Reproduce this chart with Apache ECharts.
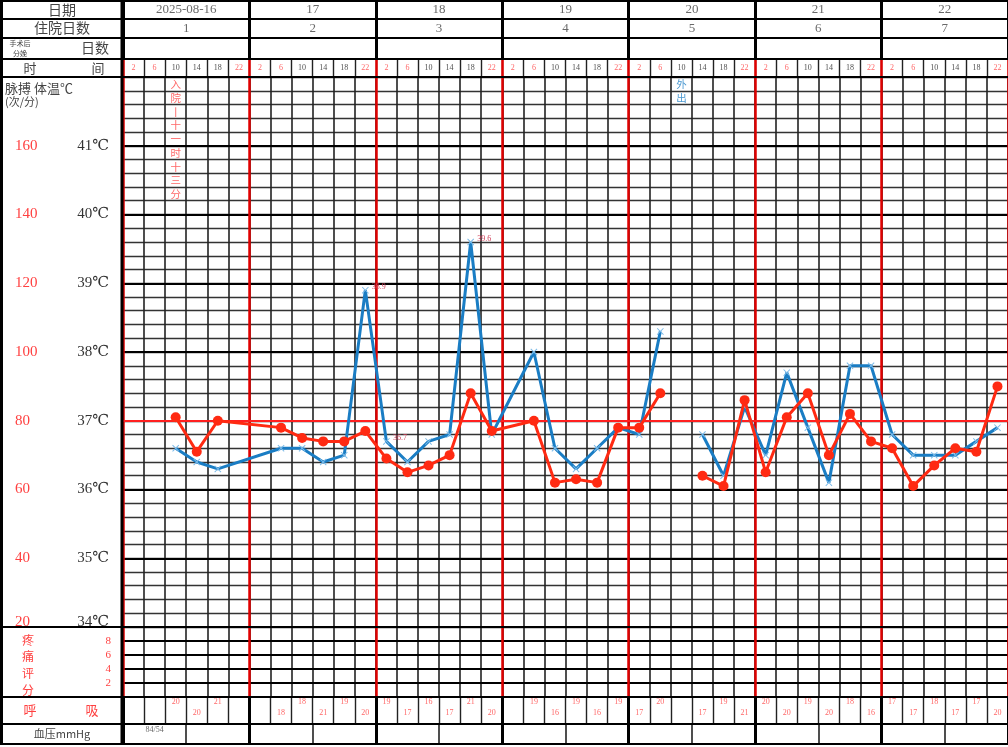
<!DOCTYPE html>
<html><head><meta charset="utf-8">
<script src="https://cdn.jsdelivr.net/npm/echarts@6/dist/echarts.min.js"></script>
<style>html,body{margin:0;padding:0;background:#fff}#c{width:1008px;height:747px}</style>
</head><body><div id="c"></div>
<script>
// ---------- data ----------
const dates = ['2025-08-16','17','18','19','20','21','22'];
const hospDays = ['1','2','3','4','5','6','7'];
const postOpDays = ['','','','','','',''];
const timeLabels = ['2','6','10','14','18','22'];
const nightHours = ['2','6','22'];
const tempTicks = [34,35,36,37,38,39,40,41];
const pulseTicks = [20,40,60,80,100,120,140,160];
const painTicks = [2,4,6,8];
// 42 time slots (7 days x 6)
const temperature = [
  null,null,36.6,36.4,36.3,null,
  null,36.6,36.6,36.4,36.5,38.9,
  36.7,36.4,36.7,36.8,39.6,36.8,
  null,38.0,36.6,36.3,36.6,36.9,
  36.8,38.3,null,36.8,36.2,37.2,
  36.5,37.7,36.9,36.1,37.8,37.8,
  36.8,36.5,36.5,36.5,36.7,36.9
];
const pulse = [
  null,null,81,71,80,null,
  null,78,75,74,74,77,
  69,65,67,70,88,77,
  null,80,62,63,62,78,
  78,88,null,64,61,86,
  65,81,88,70,82,74,
  72,61,67,72,71,90
];
const breath = [
  null,null,20,20,21,null,
  null,18,18,21,19,20,
  19,17,16,17,21,20,
  null,19,16,19,16,19,
  17,20,null,17,19,21,
  20,20,19,20,18,16,
  17,17,18,17,17,20
];
const bloodPressure = ['84/54','','','','','','','','','','','','',''];
const outSlots = [26];
const tempNotes = [{slot:11,text:'38.9'},{slot:12,text:'36.7'},{slot:16,text:'39.6'}];
const events = [{slot:2,text:'入院丨十一时十三分',kind:'admit'},{slot:26,text:'外出',kind:'out'}];

// ---------- layout ----------
const L = 123, W = 885;
const R = {date:[0,19],hosp:[19,38],op:[38,59],time:[59,77],main:[77,627],pain:[627,697],breath:[697,724],bp:[724,744]};
const RED = '#e00000', BLUE = '#1a7dc4', PRED = '#ff2a12', TRED = '#ff4040', GRAY = '#444';
const SERIF = "'Liberation Serif','DejaVu Serif',serif";
const CJK = "'Noto Sans CJK SC',sans-serif";

function grid(r){ return {left:L, top:r[0], width:W, height:r[1]-r[0], containLabel:false}; }
const grids = [grid(R.main),grid(R.pain),grid(R.breath),grid(R.bp),grid(R.time),grid(R.date),grid(R.hosp),grid(R.op)];

function xa(gi, max, interval, color, width, z){
  return {type:'value', gridIndex:gi, min:0, max:max, interval:interval, z:z||0,
    axisLine:{show:false}, axisTick:{show:false}, axisLabel:{show:false},
    splitLine:{show:true, lineStyle:{color:color, width:width}}};
}
const xAxes = [
  xa(0,42,1,'#222',1.6), xa(0,42,6,RED,2.5,2),       //0,1 main
  xa(1,42,1,'#222',1.6), xa(1,42,6,RED,2.5,2),       //2,3 pain
  xa(2,42,1,'#222',1.4), xa(2,42,6,'#000',3,2),      //4,5 breath
  xa(3,14,1,'#222',1.6), xa(3,14,2,'#000',3,2),      //6,7 bp
  xa(4,42,1,'#222',1.4), xa(4,42,6,RED,2.5,2),       //8,9 time
  xa(5,7,1,'#000',3), xa(6,7,1,'#000',3), xa(7,7,1,'#000',3) //10,11,12
];
function hiddenY(gi,min,max){ return {type:'value',gridIndex:gi,min:min,max:max,show:false,splitLine:{show:false}}; }
const yAxes = [
  {type:'value',gridIndex:0,min:34,max:42,interval:0.2,position:'right',z:0,
    axisLine:{show:false},axisTick:{show:false},axisLabel:{show:false},
    splitLine:{show:true,lineStyle:{color:'#333',width:1.4}}},
  {type:'value',gridIndex:0,min:34,max:42,interval:1,position:'left',z:1,
    axisLine:{show:false},axisTick:{show:false},
    axisLabel:{margin:14,color:'#333',fontSize:15,fontFamily:SERIF,
      rich:{b:{color:'#333',fontSize:15,fontFamily:SERIF,padding:[0,0,9,0]}},
      formatter:v=>!tempTicks.includes(v)?'':(v===tempTicks[0]?'{b|'+v+'℃}':v+'℃')},
    splitLine:{show:true,lineStyle:{color:'#000',width:2.2}}},
  {type:'value',gridIndex:0,min:20,max:180,interval:20,position:'left',
    axisLine:{show:false},axisTick:{show:false},splitLine:{show:false},
    axisLabel:{margin:108,align:'left',color:TRED,fontSize:15,fontFamily:SERIF,
      rich:{b:{color:TRED,fontSize:15,fontFamily:SERIF,padding:[0,0,9,0]}},
      formatter:v=>!pulseTicks.includes(v)?'':(v===pulseTicks[0]?'{b|'+v+'}':String(v))}},
  {type:'value',gridIndex:1,min:0,max:10,interval:2,position:'left',z:1,
    axisLine:{show:false},axisTick:{show:false},
    axisLabel:{margin:12,color:TRED,fontSize:11,fontFamily:SERIF,
      formatter:v=>painTicks.includes(v)?String(v):''},
    splitLine:{show:true,lineStyle:{color:'#000',width:2}}},
  hiddenY(2,0,2), hiddenY(3,0,1), hiddenY(4,0,1), hiddenY(5,0,1), hiddenY(6,0,1), hiddenY(7,0,1)
];

function buildLine(vals){
  const out=[];
  vals.forEach((v,i)=>{
    if(v!==null){
      const note = tempNotes.find(n=>n.slot===i);
      if(note && vals===temperature){
        out.push({value:[i+0.5,v],label:{show:true,position:'right',offset:[-2,-3],formatter:note.text,
          color:'#d0405a',fontSize:8,fontFamily:SERIF}});
      } else out.push([i+0.5,v]);
    } else if(outSlots.includes(i)) out.push([i+0.5,'-']);
  });
  return out;
}

function textSeries(xi, yi, data, label){
  return {type:'scatter', xAxisIndex:xi, yAxisIndex:yi, symbol:'circle', symbolSize:1, silent:true, z:8,
    itemStyle:{color:'rgba(0,0,0,0)'}, data:data,
    label:Object.assign({show:true, position:'inside', formatter:p=>p.value[2]}, label)};
}

// breath alternation (high/low by record order)
const breathData = [];
let k = 0;
breath.forEach((v,i)=>{ if(v!==null){ breathData.push([i+0.5, k%2===0?1.6:0.85, String(v)]); k++; } });

const X_PATH = 'path://M0,1L1,0L5,4L9,0L10,1L6,5L10,9L9,10L5,6L1,10L0,9L4,5Z';

const series = [
  {type:'line', name:'体温', xAxisIndex:0, yAxisIndex:0, data:buildLine(temperature), connectNulls:false,
    symbol:X_PATH, symbolSize:7, itemStyle:{color:'#7dbbe8'}, lineStyle:{color:BLUE,width:3}, z:4,
    markLine:{silent:true, symbol:'none', label:{show:false}, lineStyle:{color:'#ff2020',width:2,type:'solid'},
      data:[{yAxis:37}], z:3}},
  {type:'line', name:'脉搏', xAxisIndex:0, yAxisIndex:2, data:buildLine(pulse), connectNulls:false,
    symbol:'circle', symbolSize:10, itemStyle:{color:PRED}, lineStyle:{color:PRED,width:3}, z:5},
  textSeries(0,0, events.map(e=>[e.slot+0.5,42,e.text,e.kind]),
    {position:'bottom', distance:0, fontSize:10.5, lineHeight:13.7, fontFamily:CJK, color:TRED,
     rich:{o:{color:BLUE,fontSize:10.5,lineHeight:13.7,fontFamily:CJK}},
     formatter:p=>{const s=p.value[2].split('').join('\n'); return p.value[3]==='out'? s.split('\n').map(c=>'{o|'+c+'}').join('\n') : s;}}),
  textSeries(4,4,breathData,{color:TRED,fontSize:8,fontFamily:SERIF}),
  textSeries(6,5,bloodPressure.map((v,i)=>[i+0.5,0.7,v]).filter(d=>d[2]!==''),{color:GRAY,fontSize:8,fontFamily:SERIF}),
  textSeries(8,6,Array.from({length:42},(_,i)=>[i+0.5,0.5,timeLabels[i%6]]),
    {fontSize:8,fontFamily:SERIF,color:'#222',rich:{r:{color:TRED,fontSize:8,fontFamily:SERIF}},
     formatter:p=>nightHours.includes(p.value[2])?'{r|'+p.value[2]+'}':p.value[2]}),
  textSeries(10,7,dates.map((d,i)=>[i+0.5,0.5,d]),{color:GRAY,fontSize:13,fontFamily:SERIF}),
  textSeries(11,8,hospDays.map((d,i)=>[i+0.5,0.5,d]),{color:GRAY,fontSize:13,fontFamily:SERIF}),
  textSeries(12,9,postOpDays.map((d,i)=>[i+0.5,0.5,d]).filter(d=>d[2]!==''),{color:GRAY,fontSize:13,fontFamily:SERIF})
];

// ---------- table frame and left labels ----------
const g = [];
function hl(y,w){ g.push({type:'line',z:20,shape:{x1:0,y1:y,x2:1008,y2:y},style:{stroke:'#000',lineWidth:w}}); }
function vl(x,w){ g.push({type:'line',z:20,shape:{x1:x,y1:0,x2:x,y2:R.bp[1]},style:{stroke:'#000',lineWidth:w}}); }
function tx(x,y,t,o){ g.push({type:'text',z:20,x:x,y:y,style:Object.assign({text:t,fill:GRAY,font:'13px '+CJK,align:'center',verticalAlign:'middle'},o||{})}); }
[1,R.date[1],R.hosp[1],R.op[1],R.time[1],R.main[1],R.pain[1],R.breath[1],R.bp[1]].forEach(y=>hl(y,2));
vl(1.5,3); vl(122,3);
tx(62,10,'日期',{font:'14px '+CJK});
tx(62,28,'住院日数',{font:'14px '+CJK});
tx(20,43,'手术后',{font:'7px '+CJK});
tx(20,53,'分娩',{font:'7px '+CJK});
tx(95,48,'日数',{font:'14px '+CJK});
tx(30,68,'时',{font:'13px '+CJK});
tx(98,68,'间',{font:'13px '+CJK});
tx(5,88,'脉搏 体温℃',{font:'13px '+CJK,align:'left'});
tx(5,102,'(次/分)',{font:'11px '+CJK,align:'left'});
['疼','痛','评','分'].forEach((c,i)=>tx(28,[640,656,673,690][i],c,{fill:TRED,font:'12px '+CJK}));
tx(30,710,'呼',{fill:TRED,font:'13px '+CJK});
tx(92,710,'吸',{fill:TRED,font:'13px '+CJK});
tx(62,734,'血压mmHg',{font:'11px '+CJK});

const chart = echarts.init(document.getElementById('c'));
chart.setOption({animation:false, backgroundColor:'#fff', grid:grids, xAxis:xAxes, yAxis:yAxes, series:series, graphic:g});
</script></body></html>
